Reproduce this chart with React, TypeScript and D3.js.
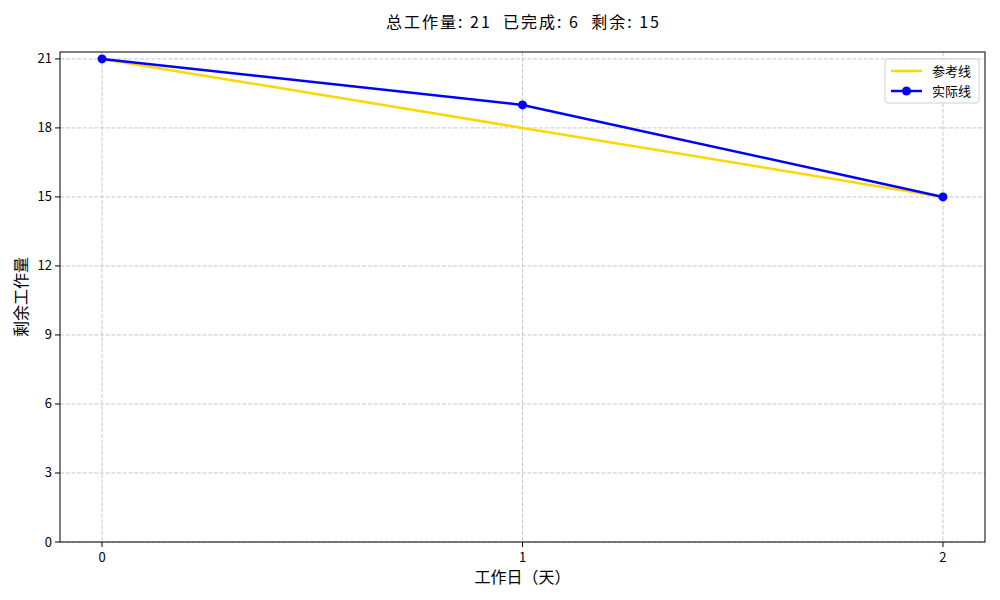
import React from "react";
import * as d3 from "d3";

const days = [0, 1, 2];
const referenceValues = [21, 18, 15];
const actualValues = [21, 19, 15];
const yTicks = [0, 3, 6, 9, 12, 15, 18, 21];
const xTicks = [0, 1, 2];
const titleText = "总工作量: 21  已完成: 6  剩余: 15";
const xLabel = "工作日（天）";
const yLabel = "剩余工作量";
const legendLabels = ["参考线", "实际线"];

const FONT = "'Noto Sans CJK SC', 'DejaVu Sans', sans-serif";

export default function App() {
  const W = 1000, H = 600;
  const L = 60, R = 985, T = 52, B = 542;
  const x = d3.scaleLinear().domain([-0.1, 2.1]).range([L, R]);
  const y = d3.scaleLinear().domain([0, 21.3]).range([B, T]);
  const line = d3.line<[number, number]>().x(d => x(d[0])).y(d => y(d[1]));
  const refPts = days.map((d, i) => [d, referenceValues[i]] as [number, number]);
  const actPts = days.map((d, i) => [d, actualValues[i]] as [number, number]);
  const gridStyle = { stroke: "#b0b0b0", strokeOpacity: 0.7, strokeWidth: 1, strokeDasharray: "4,1.7" };
  return (
    <svg width={W} height={H} style={{ position: "absolute", left: 0, top: 0 }} fontFamily={FONT}>
      <rect x={0} y={0} width={W} height={H} fill="#fff" />
      {/* grid */}
      {xTicks.map(t => (
        <line key={"gx" + t} x1={x(t)} x2={x(t)} y1={T} y2={B} {...gridStyle} />
      ))}
      {yTicks.map(t => (
        <line key={"gy" + t} x1={L} x2={R} y1={y(t)} y2={y(t)} {...gridStyle} />
      ))}
      {/* lines */}
      <path d={line(refPts) || ""} fill="none" stroke="#FFD700" strokeWidth={2.5} />
      <path d={line(actPts) || ""} fill="none" stroke="#0000FF" strokeWidth={2.5} />
      {actPts.map((p, i) => (
        <circle key={"m" + i} cx={x(p[0])} cy={y(p[1])} r={4.5} fill="#0000FF" />
      ))}
      {/* axes frame */}
      <rect x={L} y={T} width={R - L} height={B - T} fill="none" stroke="#000" strokeWidth={1} />
      {/* ticks */}
      {xTicks.map(t => (
        <g key={"xt" + t}>
          <line x1={x(t)} x2={x(t)} y1={B} y2={B + 5} stroke="#000" />
          <text x={x(t)} y={B + 20} textAnchor="middle" fontSize={13}>{t}</text>
        </g>
      ))}
      {yTicks.map(t => (
        <g key={"yt" + t}>
          <line x1={L - 5} x2={L} y1={y(t)} y2={y(t)} stroke="#000" />
          <text x={L - 8} y={y(t) + 4.5} textAnchor="end" fontSize={13}>{t}</text>
        </g>
      ))}
      {/* labels */}
      <text x={386} y={28} fontSize={16} textLength={273} lengthAdjust="spacing" style={{ whiteSpace: "pre" }} xmlSpace="preserve">{titleText}</text>
      <text x={(L + R) / 2} y={583} textAnchor="middle" fontSize={16}>{xLabel}</text>
      <text transform={`translate(27, ${(T + B) / 2}) rotate(-90)`} textAnchor="middle" fontSize={16}>{yLabel}</text>
      {/* legend */}
      <g>
        <rect x={885} y={59} width={94} height={44} rx={3} fill="#fff" fillOpacity={0.8} stroke="#d0d0d0" />
        <line x1={891} x2={922} y1={71} y2={71} stroke="#FFD700" strokeWidth={2.5} />
        <text x={932} y={75.5} fontSize={13}>{legendLabels[0]}</text>
        <line x1={891} x2={922} y1={91} y2={91} stroke="#0000FF" strokeWidth={2.5} />
        <circle cx={906.5} cy={91} r={4.5} fill="#0000FF" />
        <text x={932} y={95.5} fontSize={13}>{legendLabels[1]}</text>
      </g>
    </svg>
  );
}
